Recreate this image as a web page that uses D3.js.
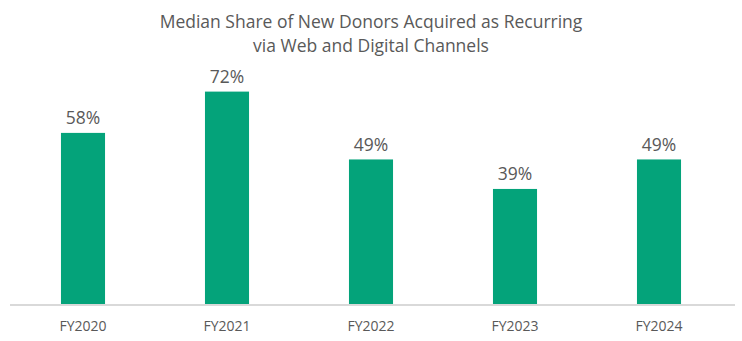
<!DOCTYPE html>
<html>
<head>
<meta charset="utf-8">
<script src="https://cdn.jsdelivr.net/npm/d3@7"></script>
<style>
  html, body { margin: 0; padding: 0; background: #fff; }
  svg { display: block; font-family: "Open Sans", "Noto Sans", sans-serif; }
</style>
</head>
<body>
<svg id="chart" width="742" height="341"></svg>
<script>
// Fiscal years and median share (%) of new donors acquired as recurring
const categories = ["FY2020", "FY2021", "FY2022", "FY2023", "FY2024"];
const values = [58, 72, 49, 39, 49];
const titleLines = [
  "Median Share of New Donors Acquired as Recurring",
  "via Web and Digital Channels"
];

const svg = d3.select("#chart");
const baseY = 304;

const x = d3.scaleBand()
  .domain(categories)
  .range([11, 731])
  .paddingInner(0.694)
  .paddingOuter(0.347);

const y = d3.scaleLinear()
  .domain([0, 100])
  .range([baseY, 9]);

// Title
svg.append("text")
  .attr("x", 371)
  .attr("y", 27.5)
  .attr("text-anchor", "middle")
  .attr("fill", "#595959")
  .attr("font-size", 17.5)
  .selectAll("tspan")
  .data(titleLines)
  .join("tspan")
  .attr("x", 371)
  .attr("dy", (d, i) => i === 0 ? 0 : 24.5)
  .text(d => d);

// Bars
svg.append("g")
  .selectAll("rect")
  .data(values)
  .join("rect")
  .attr("x", (d, i) => x(categories[i]))
  .attr("y", d => y(d))
  .attr("width", x.bandwidth())
  .attr("height", d => baseY - y(d))
  .attr("fill", "#04A37A");

// Value labels
svg.append("g")
  .selectAll("text")
  .data(values)
  .join("text")
  .attr("x", (d, i) => x(categories[i]) + x.bandwidth() / 2)
  .attr("y", d => y(d) - 8.5)
  .attr("text-anchor", "middle")
  .attr("fill", "#595959")
  .attr("font-size", 17.5)
  .text(d => d + "%");

// Category axis
const axis = svg.append("g")
  .attr("transform", `translate(0,${baseY})`)
  .call(d3.axisBottom(x).tickSize(0).tickPadding(17));
axis.select(".domain").remove();
axis.selectAll("text")
  .attr("fill", "#595959")
  .attr("font-size", 14)
  .attr("font-family", "\"Open Sans\", \"Noto Sans\", sans-serif");

svg.append("line")
  .attr("x1", 10)
  .attr("x2", 735)
  .attr("y1", baseY + 1)
  .attr("y2", baseY + 1)
  .attr("stroke", "#D9D9D9")
  .attr("stroke-width", 2);
</script>
</body>
</html>
